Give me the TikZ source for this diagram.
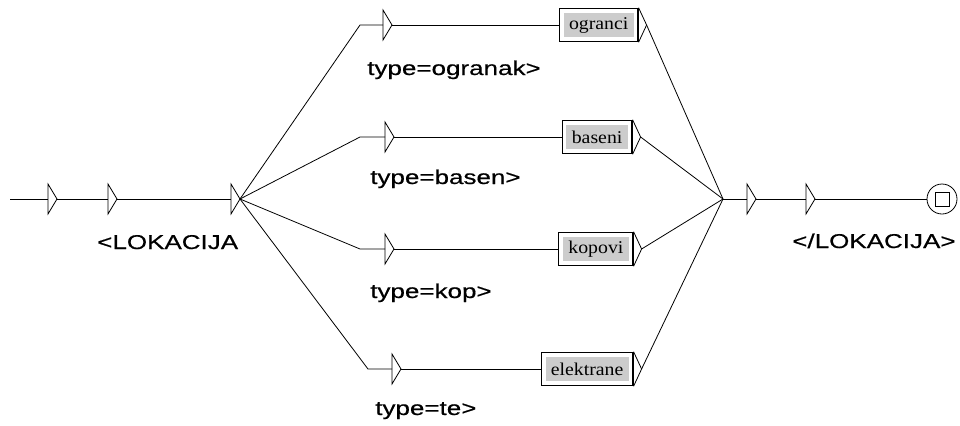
\documentclass[tikz,border=0pt]{standalone}
\usepackage{fontspec}
\setmainfont{Liberation Sans}
\newfontfamily\labfont[FakeStretch=1.3, FakeBold=0.5]{Liberation Sans}
\newfontfamily\boxfont[FakeStretch=1.1]{Liberation Serif}
\usetikzlibrary{fit}
\definecolor{boxgray}{RGB}{204,204,204}
\tikzset{
  edge/.style={draw=black, line width=0.6pt, line join=miter},
  arrowin/.pic={
    \draw[edge] (0,-15) -- (0,15) -- (9,0) -- cycle;
    \coordinate (-l) at (0,0);
    \coordinate (-r) at (9,0);
  },
  wbox/.style={fill=boxgray, font=\boxfont\fontsize{13.5}{15}\selectfont,
    inner xsep=4pt, inner ysep=0pt, minimum height=17.5pt, anchor=east},
  framebox/.style={draw=black, line width=0.9pt, inner xsep=3pt, inner ysep=3.5pt},
  lab/.style={font=\labfont\fontsize{15}{18}\selectfont, inner sep=0pt, anchor=base west},
}
\begin{document}
\begin{tikzpicture}[x=0.75pt, y=-0.75pt]
\useasboundingbox (0,0) rectangle (960,425);

% left chain
\coordinate (s) at (10,199);
\pic (a1) at (48,199) {arrowin};
\pic (a2) at (108,199) {arrowin};
\pic (a3) at (231,199) {arrowin};
\draw[edge] (s) -- (a1-l);
\draw[edge] (a1-r) -- (a2-l);
\draw[edge] (a2-r) -- (a3-l);
\node[lab] (lk) at (97,249) {<LOKACIJA};

% elbows
\coordinate (e1) at (360,25);
\coordinate (e2) at (360,137);
\coordinate (e3) at (360,249);
\coordinate (e4) at (368,369);

% row triangles
\pic (r1) at (383,25) {arrowin};
\pic (r2) at (385,137) {arrowin};
\pic (r3) at (385,249) {arrowin};
\pic (r4) at (392,369) {arrowin};

% word boxes
\node[wbox] (b1) at (634,25) {ogranci};
\node[wbox] (b2) at (628,137) {baseni};
\node[wbox] (b3) at (629,249) {kopovi};
\node[wbox] (b4) at (629,369) {elektrane};
\node[framebox, fit=(b1)] (f1) {};
\node[framebox, fit=(b2)] (f2) {};
\node[framebox, fit=(b3)] (f3) {};
\node[framebox, fit=(b4)] (f4) {};

% output tips of boxes
\coordinate (o1) at ([xshift=6pt]f1.east);
\coordinate (o2) at ([xshift=6pt]f2.east);
\coordinate (o3) at ([xshift=6pt]f3.east);
\coordinate (o4) at ([xshift=6pt]f4.east);
\draw[edge] (f1.north east) -- (o1) -- (f1.south east);
\draw[edge] (f2.north east) -- (o2) -- (f2.south east);
\draw[edge] (f3.north east) -- (o3) -- (f3.south east);
\draw[edge] (f4.north east) -- (o4) -- (f4.south east);

% fan out
\draw[edge] (a3-r) -- (e1) -- (r1-l);
\draw[edge] (a3-r) -- (e2) -- (r2-l);
\draw[edge] (a3-r) -- (e3) -- (r3-l);
\draw[edge] (a3-r) -- (e4) -- (r4-l);
\draw[edge] (r1-r) -- (f1.west);
\draw[edge] (r2-r) -- (f2.west);
\draw[edge] (r3-r) -- (f3.west);
\draw[edge] (r4-r) -- (f4.west);

% labels
\node[lab] (l1) at (367,75) {type=ogranak>};
\node[lab] (l2) at (370,184) {type=basen>};
\node[lab] (l3) at (370,298) {type=kop>};
\node[lab] (l4) at (375,415) {type=te>};

% merge
\coordinate (m) at (723,199);
\draw[edge] (o1) -- (m);
\draw[edge] (o2) -- (m);
\draw[edge] (o3) -- (m);
\draw[edge] (o4) -- (m);

% right chain
\pic (a4) at (747,199) {arrowin};
\pic (a5) at (806,199) {arrowin};
\node[draw=black, line width=0.6pt, circle, minimum size=22.5pt, inner sep=0pt] (fin) at (942,199) {};
\node[draw=black, line width=0.6pt, minimum size=10.5pt, inner sep=0pt] (finsq) at (fin.center) {};
\draw[edge] (m) -- (a4-l);
\draw[edge] (a4-r) -- (a5-l);
\draw[edge] (a5-r) -- (fin.west);
\node[lab] (rk) at (792,248) {</LOKACIJA>};
\end{tikzpicture}
\end{document}
